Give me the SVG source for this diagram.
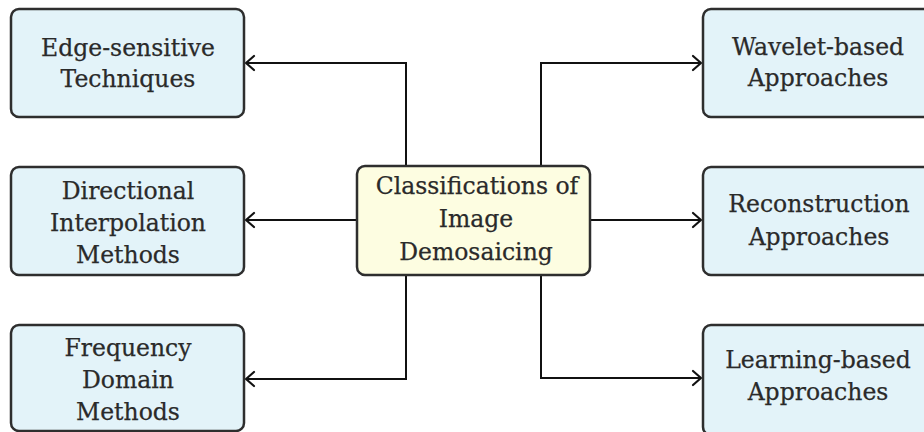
<svg xmlns="http://www.w3.org/2000/svg" width="924" height="432" viewBox="0 0 924 432">
  <defs>
    <style>
      .box { fill: #e3f3f9; stroke: #2e2e2e; stroke-width: 2.5; }
      .hub { fill: #fdfde1; stroke: #2e2e2e; stroke-width: 2.5; }
      .lbl { font-family: "DejaVu Serif", "Liberation Serif", serif; font-size: 23.5px; fill: #2a2a2a; stroke: #2a2a2a; stroke-width: 0.25; text-anchor: middle; }
      .wire { fill: none; stroke: #111; stroke-width: 2; }
      .tip { fill: none; stroke: #111; stroke-width: 2.2; stroke-linecap: round; stroke-linejoin: round; }
    </style>
  </defs>
  <rect width="924" height="432" fill="#ffffff"/>

  <!-- connectors -->
  <g id="connectors">
    <path class="wire" d="M406 166 V63 H246"/>
    <path class="tip" d="M254 56 L246 63 L254 70"/>
    <path class="wire" d="M357 220 H246"/>
    <path class="tip" d="M254 213 L246 220 L254 227"/>
    <path class="wire" d="M406 275 V379 H246"/>
    <path class="tip" d="M254 372 L246 379 L254 386"/>
    <path class="wire" d="M541 166 V63 H701"/>
    <path class="tip" d="M693 56 L701 63 L693 70"/>
    <path class="wire" d="M590 220 H701"/>
    <path class="tip" d="M693 213 L701 220 L693 227"/>
    <path class="wire" d="M541 275 V378 H701"/>
    <path class="tip" d="M693 371 L701 378 L693 385"/>
  </g>

  <!-- centre node -->
  <g id="classifications">
    <rect class="hub" x="357" y="166" width="233" height="109" rx="8"/>
    <text class="lbl" x="477" y="194">Classifications of</text>
    <text class="lbl" x="476" y="227">Image</text>
    <text class="lbl" x="476" y="260">Demosaicing</text>
  </g>

  <!-- left column -->
  <g id="edge-sensitive">
    <rect class="box" x="11" y="9" width="233" height="108" rx="8"/>
    <text class="lbl" x="128" y="56">Edge-sensitive</text>
    <text class="lbl" x="128" y="87">Techniques</text>
  </g>
  <g id="directional">
    <rect class="box" x="11" y="167" width="233" height="108" rx="8"/>
    <text class="lbl" x="128" y="199">Directional</text>
    <text class="lbl" x="128" y="231">Interpolation</text>
    <text class="lbl" x="128" y="263">Methods</text>
  </g>
  <g id="frequency">
    <rect class="box" x="11" y="325" width="233" height="106" rx="8"/>
    <text class="lbl" x="128" y="356">Frequency</text>
    <text class="lbl" x="128" y="388">Domain</text>
    <text class="lbl" x="128" y="420">Methods</text>
  </g>

  <!-- right column -->
  <g id="wavelet">
    <rect class="box" x="703" y="9" width="240" height="108" rx="8"/>
    <text class="lbl" x="818" y="55">Wavelet-based</text>
    <text class="lbl" x="818" y="86">Approaches</text>
  </g>
  <g id="reconstruction">
    <rect class="box" x="703" y="167" width="240" height="108" rx="8"/>
    <text class="lbl" x="819" y="212">Reconstruction</text>
    <text class="lbl" x="819" y="245">Approaches</text>
  </g>
  <g id="learning">
    <rect class="box" x="703" y="325" width="240" height="110" rx="8"/>
    <text class="lbl" x="818" y="368">Learning-based</text>
    <text class="lbl" x="818" y="400">Approaches</text>
  </g>
</svg>
